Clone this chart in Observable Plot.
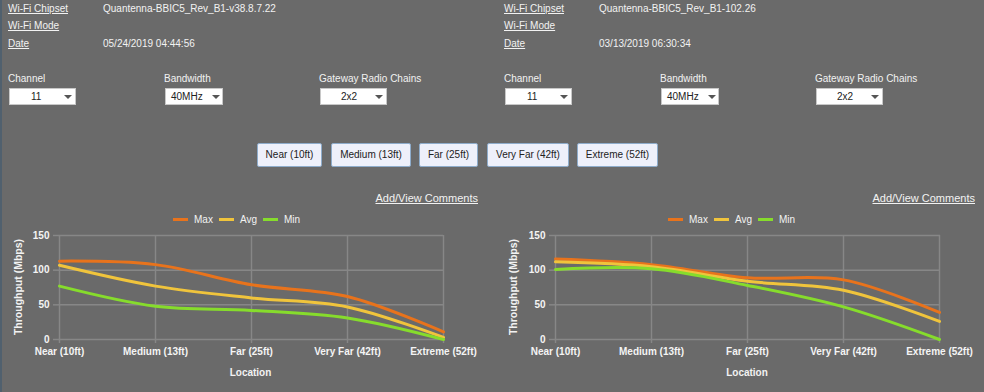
<!DOCTYPE html>
<html><head><meta charset="utf-8">
<script src="https://cdn.jsdelivr.net/npm/d3@7"></script>
<script src="https://cdn.jsdelivr.net/npm/@observablehq/plot@0.6"></script>
<style>
html,body{margin:0;padding:0;}
body{width:984px;height:392px;background:#6a6a6a;position:relative;overflow:hidden;font-family:"Liberation Sans",Arial,sans-serif;color:#f2f2f2;font-size:10px;}
.edge{position:absolute;left:0;top:0;width:2px;height:392px;background:#50606e;}
.abs{position:absolute;white-space:nowrap;line-height:12px;}
.lnk{text-decoration:underline;}
.sel{position:absolute;background:#fff;border:1px solid #c8c8c8;height:17px;box-sizing:border-box;color:#222;font-size:10px;line-height:15px;}
.sel span{position:absolute;top:0;}
.sel i{position:absolute;top:6px;width:0;height:0;border-left:4px solid transparent;border-right:4px solid transparent;border-top:4px solid #555;}
.btn{position:absolute;top:143px;height:24px;box-sizing:border-box;background:#eef0fa;border:1px solid #8eaccb;border-radius:2px;color:#222;font-size:10px;line-height:22px;text-align:center;}
.leg{position:absolute;top:214px;display:flex;align-items:center;font-size:10px;color:#f2f2f2;}
.leg b{display:inline-block;width:15px;height:3px;margin-right:6px;}
.leg span{margin-right:6px;}
.ylab{position:absolute;font-weight:bold;font-size:10.5px;transform:translate(-50%,-50%) rotate(-90deg);white-space:nowrap;}
.xlab{position:absolute;font-weight:bold;font-size:10px;transform:translate(-50%,-50%);white-space:nowrap;}
.chart{position:absolute;top:225px;}
</style></head>
<body>
<div class="edge"></div>
<div id="root"></div>
<script>
const locations = ["Near (10ft)", "Medium (13ft)", "Far (25ft)", "Very Far (42ft)", "Extreme (52ft)"];
const seriesNames = ["Max", "Avg", "Min"];
const seriesColors = ["#e8731c", "#f0c43c", "#86dc2c"];
const yTicks = [0, 50, 100, 150];

const leftMax = [113, 108, 79, 62, 11];
const leftAvg = [107, 77, 60, 47, 3];
const leftMin = [77, 48, 42, 31, 0];
const rightMax = [116, 108, 89, 86, 39];
const rightAvg = [112, 105, 84, 71, 26];
const rightMin = [101, 102, 78, 47, 0];

const leftInfo = {chipset: "Quantenna-BBIC5_Rev_B1-v38.8.7.22", mode: "", date: "05/24/2019 04:44:56", channel: "11", bandwidth: "40MHz", chains: "2x2"};
const rightInfo = {chipset: "Quantenna-BBIC5_Rev_B1-102.26", mode: "", date: "03/13/2019 06:30:34", channel: "11", bandwidth: "40MHz", chains: "2x2"};

const root = document.getElementById("root");
function add(html){ root.insertAdjacentHTML("beforeend", html); }

function header(ox, info, valX){
  add(`<div class="abs lnk" style="left:${ox+8}px;top:3px">Wi-Fi Chipset</div>`);
  add(`<div class="abs" style="left:${ox+valX}px;top:3px">${info.chipset}</div>`);
  add(`<div class="abs lnk" style="left:${ox+8}px;top:20px">Wi-Fi Mode</div>`);
  add(`<div class="abs" style="left:${ox+valX}px;top:20px">${info.mode}</div>`);
  add(`<div class="abs lnk" style="left:${ox+8}px;top:38px">Date</div>`);
  add(`<div class="abs" style="left:${ox+valX}px;top:38px">${info.date}</div>`);
  add(`<div class="abs" style="left:${ox+8}px;top:73px">Channel</div>`);
  add(`<div class="sel" style="left:${ox+9}px;top:88px;width:67px"><span style="left:21px">${info.channel}</span><i style="left:54px"></i></div>`);
  add(`<div class="abs" style="left:${ox+164}px;top:73px">Bandwidth</div>`);
  add(`<div class="sel" style="left:${ox+165}px;top:88px;width:58px"><span style="left:5px">${info.bandwidth}</span><i style="left:46px"></i></div>`);
  add(`<div class="abs" style="left:${ox+319}px;top:73px">Gateway Radio Chains</div>`);
  add(`<div class="sel" style="left:${ox+320}px;top:88px;width:67px"><span style="left:20px">${info.chains}</span><i style="left:54px"></i></div>`);
}
header(0, leftInfo, 103);
header(496, rightInfo, 103);

const btnPos = [[257,65],[331,80],[419,59],[487,82],[577,81]];
locations.forEach((l,i)=> add(`<div class="btn" style="left:${btnPos[i][0]}px;width:${btnPos[i][1]}px">${l}</div>`));

add(`<div class="abs lnk" style="right:${984-478}px;top:192px;font-size:11px">Add/View Comments</div>`);
add(`<div class="abs lnk" style="right:${984-975}px;top:192px;font-size:11px">Add/View Comments</div>`);

function legend(left){
  add(`<div class="leg" style="left:${left}px">` + seriesNames.map((s,i)=>`<b style="background:${seriesColors[i]}"></b><span>${s}</span>`).join("") + `</div>`);
}
legend(173);
legend(668);

function chart(ox, max, avg, min, mL, mR){
  const data = [];
  [max, avg, min].forEach((arr, si) => arr.forEach((v, i) => data.push({series: seriesNames[si], loc: locations[i], value: v})));
  const grid = "#878787";
  const svg = Plot.plot({
    width: 492, height: 160,
    marginTop: 10, marginBottom: 46, marginLeft: mL, marginRight: mR,
    style: {background: "transparent", color: "#fff", fontSize: "10px", fontFamily: "'Liberation Sans', Arial, sans-serif", fontWeight: "bold"},
    x: {type: "point", domain: locations, padding: 0, label: null},
    y: {domain: [0, 150], label: null},
    color: {domain: seriesNames, range: seriesColors},
    marks: [
      Plot.ruleY(yTicks, {stroke: grid, strokeWidth: 1.5}),
      Plot.ruleX(locations, {stroke: grid, strokeWidth: 1.5}),
      Plot.axisX({tickSize: 4, tickPadding: 4, stroke: grid, strokeWidth: 1.5, fill: "#f4f4f4", label: null}),
      Plot.axisY({ticks: yTicks, tickSize: 5, tickPadding: 4, stroke: grid, strokeWidth: 1.5, fill: "#f4f4f4", label: null}),
      Plot.line(data, {x: "loc", y: "value", z: "series", stroke: "series", curve: "catmull-rom", strokeWidth: 3})
    ]
  });
  svg.setAttribute("class", "chart");
  svg.style.left = ox + "px";
  svg.style.position = "absolute";
  svg.style.top = "225px";
  root.appendChild(svg);
  add(`<div class="ylab" style="left:${ox + (mL === 58 ? 18 : 21)}px;top:287px">Throughput (Mbps)</div>`);
  add(`<div class="xlab" style="left:${ox + mL + (492 - mL - mR)/2}px;top:372px">Location</div>`);
}
chart(0, leftMax, leftAvg, leftMin, 58, 49);
chart(492, rightMax, rightAvg, rightMin, 62, 44);
</script>
</body></html>
